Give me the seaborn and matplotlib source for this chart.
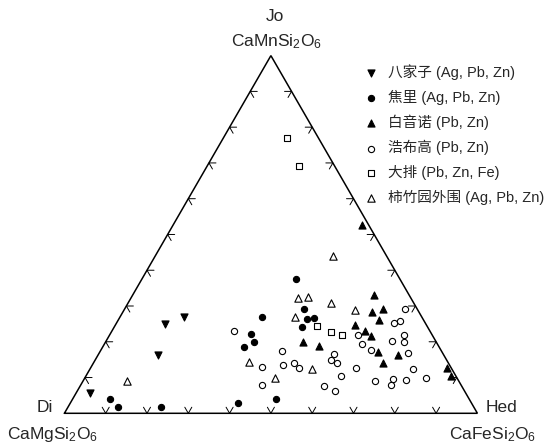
import numpy as np
import pandas as pd
import matplotlib
matplotlib.use("Agg")
import matplotlib.pyplot as plt
import seaborn as sns

# Pyroxene end-member compositions, in %.
# Jo = CaMnSi2O6, Hed = CaFeSi2O6, Di = 100 - Jo - Hed
bajiazi_jo = [26.9, 25.1, 16.2, 5.6]
bajiazi_hed = [15.6, 11.9, 14.5, 3.3]

jiaoli_jo = [37.5, 27.0, 29.1, 26.5, 26.7, 24.1, 22.2, 19.8, 18.5, 3.9, 1.9, 1.9, 3.0, 3.9]
jiaoli_hed = [37.3, 34.4, 43.4, 45.4, 47.1, 45.5, 34.2, 35.9, 34.2, 9.0, 12.0, 22.4, 40.5, 49.3]

baiyinnuo_jo = [52.7, 33.0, 28.4, 29.3, 26.1, 24.8, 23.0, 21.6, 19.9, 18.7, 17.1, 16.4, 14.2, 12.8, 10.5]
baiyinnuo_hed = [45.7, 58.5, 60.2, 62.6, 63.2, 58.0, 61.2, 63.4, 47.8, 52.3, 67.5, 72.5, 70.0, 86.3, 88.4]

haobugao_jo = [23.1, 29.1, 25.8, 25.2, 22.0, 22.0, 20.2, 19.9, 19.3, 17.6, 16.8, 17.5, 14.2, 12.8, 13.4,
               13.0, 16.5, 15.0, 14.1, 12.8, 10.3, 7.7, 6.1, 8.0, 9.0, 9.7, 7.9, 9.4, 12.3, 10.0]
haobugao_hed = [29.6, 67.9, 68.3, 67.1, 60.0, 71.2, 69.2, 72.3, 62.5, 65.4, 74.7, 44.0, 48.6, 50.3, 46.2,
                41.4, 57.0, 57.0, 59.0, 64.1, 61.8, 58.9, 62.5, 43.8, 70.6, 74.8, 75.1, 78.1, 78.2, 82.5]

dapai_jo = [77.0, 69.2, 24.4, 22.8, 21.8]
dapai_hed = [15.4, 22.1, 49.0, 53.1, 56.3]

shizhuyuan_jo = [44.0, 32.1, 32.4, 30.9, 28.9, 27.0, 14.3, 12.5, 10.0, 8.9]
shizhuyuan_hed = [43.0, 40.4, 42.9, 49.2, 55.9, 42.4, 37.5, 53.8, 46.0, 10.7]

deposits = ["八家子 (Ag, Pb, Zn)", "焦里 (Ag, Pb, Zn)", "白音诺 (Pb, Zn)",
            "浩布高 (Pb, Zn)", "大排 (Pb, Zn, Fe)", "柿竹园外围 (Ag, Pb, Zn)"]
jo_values = [bajiazi_jo, jiaoli_jo, baiyinnuo_jo, haobugao_jo, dapai_jo, shizhuyuan_jo]
hed_values = [bajiazi_hed, jiaoli_hed, baiyinnuo_hed, haobugao_hed, dapai_hed, shizhuyuan_hed]

markers = ["v", "o", "^", "o", "s", "^"]
filled = [True, True, True, False, False, False]
sizes = [26, 20, 26, 20, 17, 28]

H = np.sqrt(3) / 2
rows = []
for name, jo, hed in zip(deposits, jo_values, hed_values):
    for j, h in zip(jo, hed):
        rows.append({"deposit": name, "Jo": j, "Hed": h, "Di": 100 - j - h})
df = pd.DataFrame(rows)
# ternary -> cartesian (Di at origin, Hed at (1, 0), Jo at apex)
df["x"] = (df["Hed"] + df["Jo"] / 2) / 100
df["y"] = df["Jo"] / 100 * H

sns.set_style("white")
plt.rcParams["font.family"] = ["Liberation Sans", "Noto Sans CJK SC", "DejaVu Sans"]
plt.rcParams["mathtext.fontset"] = "custom"
plt.rcParams["mathtext.rm"] = "Liberation Sans"
plt.rcParams["mathtext.default"] = "regular"

W, HT = 545, 447
fig = plt.figure(figsize=(W / 100, HT / 100), dpi=100)
ax = fig.add_axes([0, 0, 1, 1])
side = 413.0  # px
x0_px, base_px = 64.4, 413.3
ax.set_xlim(-x0_px / side, (W - x0_px) / side)
ax.set_ylim(-(HT - base_px) / side, base_px / side)
ax.set_aspect("equal")
ax.axis("off")

# triangle outline
ax.plot([0, 1, 0.5, 0], [0, 0, H, 0], color="black", lw=1.1, solid_joinstyle="miter", zorder=2)

# chevron ticks at every 10 %, arms pointing along the grid directions
L = 0.017
edges = [
    (lambda t: (t, 0.0), [(0.5, H), (-0.5, H)]),
    (lambda t: (0.5 * t, H * t), [(1.0, 0.0), (0.5, -H)]),
    (lambda t: (1 - 0.5 * t, H * t), [(-1.0, 0.0), (-0.5, -H)]),
]
for pos, arms in edges:
    for t in np.arange(1, 10) / 10:
        px, py = pos(t)
        (ax1, ay1), (ax2, ay2) = arms
        ax.plot([px + L * ax1, px, px + L * ax2], [py + L * ay1, py, py + L * ay2],
                color="black", lw=0.7, zorder=2)

for name, m, f, s in zip(deposits, markers, filled, sizes):
    sub = df[df["deposit"] == name]
    sns.scatterplot(data=sub, x="x", y="y", ax=ax, marker=m, s=s,
                    color="black", facecolor="black" if f else "white",
                    edgecolor="black", linewidth=0.8, label=name, zorder=3)

ax.legend(loc="upper left", bbox_to_anchor=(363.4 / W, 1 - 64 / HT),
          bbox_transform=fig.transFigure, frameon=False, borderpad=0, borderaxespad=0,
          handlelength=1.0, handletextpad=0.7, labelspacing=0.68, scatterpoints=1,
          prop={"family": ["Liberation Sans", "Noto Sans CJK SC"], "size": 10.5})


def label(xp, yp, s, ha="center"):
    fig.text(xp / W, 1 - yp / HT, s, ha=ha, va="center", fontsize=12.5)


label(275, 16.7, "Jo")
label(277, 41.7, r"CaMnSi$_2$O$_6$")
label(53, 408, "Di", ha="right")
label(486, 408, "Hed", ha="left")
label(53, 435, r"CaMgSi$_2$O$_6$")
label(493, 435, r"CaFeSi$_2$O$_6$")

fig.savefig("out.png", dpi=100)
